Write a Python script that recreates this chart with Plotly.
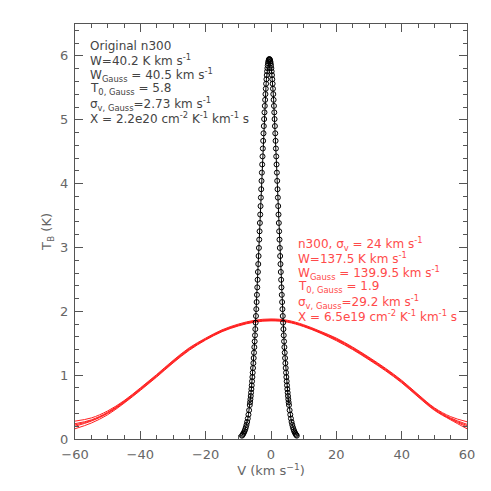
import plotly.graph_objects as go

# ---- black: original n300 spectrum (V in km/s, T_B in K) ----
v_orig = [-8.9, -8.7, -8.5, -8.3, -8.1, -7.9, -7.7, -7.5, -7.3, -7.1, -6.9, -6.7,
          -6.5, -6.4, -6.3, -6.2, -6.1, -6.0, -5.9, -5.8, -5.7, -5.6,
          -5.5, -5.4, -5.3, -5.2, -5.1, -5.0, -4.9, -4.8, -4.7, -4.6,
          -4.5, -4.4, -4.3, -4.2, -4.1, -4.0, -3.9, -3.8, -3.7, -3.6,
          -3.5, -3.4, -3.3, -3.2, -3.1, -3.0, -2.9, -2.8, -2.7, -2.6,
          -2.5, -2.4, -2.3, -2.2, -2.1, -2.0, -1.9, -1.8, -1.7, -1.6,
          -1.5, -1.4, -1.3, -1.2, -1.1, -1.0, -0.9, -0.8, -0.7, -0.6,
          -0.5,
          -0.4, -0.3, -0.2, -0.1, 0.0, 0.1, 0.2, 0.3, 0.4, 0.5,
          0.6, 0.7, 0.8, 0.9, 1.0, 1.1, 1.2, 1.3, 1.4, 1.5,
          1.6, 1.7, 1.8, 1.9, 2.0, 2.1, 2.2, 2.3, 2.4, 2.5,
          2.6, 2.7, 2.8, 2.9, 3.0, 3.1, 3.2, 3.3, 3.4, 3.5,
          3.6, 3.7, 3.8, 3.9, 4.0, 4.1, 4.2, 4.3, 4.4, 4.5,
          4.6, 4.7, 4.8, 4.9, 5.0, 5.1, 5.2, 5.3, 5.4, 5.5,
          5.7, 5.9, 6.1, 6.3, 6.5, 6.7, 6.9, 7.1, 7.3, 7.5, 7.7, 7.9]
t_orig = [0.052, 0.065, 0.081, 0.100, 0.123, 0.151, 0.184, 0.222, 0.267, 0.320, 0.381, 0.451,
          0.532, 0.576, 0.623, 0.673, 0.726, 0.782, 0.841, 0.904, 0.970, 1.039,
          1.112, 1.188, 1.268, 1.352, 1.439, 1.529, 1.624, 1.721, 1.822, 1.926,
          2.034, 2.145, 2.258, 2.375, 2.494, 2.616, 2.740, 2.866, 2.993, 3.123,
          3.253, 3.384, 3.516, 3.648, 3.781, 3.912, 4.043, 4.172, 4.300, 4.426,
          4.550, 4.670, 4.788, 4.901, 5.011, 5.116, 5.217, 5.312, 5.402, 5.486,
          5.564, 5.635, 5.700, 5.758, 5.808, 5.851, 5.886, 5.914, 5.934, 5.946,
          5.950,
          5.946, 5.934, 5.914, 5.886, 5.851, 5.808, 5.758, 5.700, 5.635, 5.564,
          5.486, 5.402, 5.312, 5.217, 5.116, 5.011, 4.901, 4.788, 4.670, 4.550,
          4.426, 4.300, 4.172, 4.043, 3.912, 3.781, 3.648, 3.516, 3.384, 3.253,
          3.123, 2.993, 2.866, 2.740, 2.616, 2.494, 2.375, 2.258, 2.145, 2.034,
          1.926, 1.822, 1.721, 1.624, 1.529, 1.439, 1.352, 1.268, 1.188, 1.112,
          1.039, 0.970, 0.904, 0.841, 0.782, 0.726, 0.673, 0.623, 0.576, 0.532,
          0.451, 0.381, 0.320, 0.267, 0.222, 0.184, 0.151, 0.123, 0.100, 0.081, 0.065, 0.052]

# ---- red: smoothed n300 spectra (sigma_v = 24 km/s) ----
v_smooth = [-60, -55, -50, -45, -40, -35, -30, -25, -20, -15, -10, -5, 0,
            5, 10, 15, 20, 25, 30, 35, 40, 45, 50, 55, 60]
t_smooth_1 = [0.16, 0.25, 0.38, 0.56, 0.76, 0.97, 1.19, 1.39, 1.55, 1.68, 1.77, 1.83, 1.85,
              1.83, 1.76, 1.66, 1.54, 1.40, 1.24, 1.07, 0.88, 0.66, 0.45, 0.30, 0.16]
t_smooth_2 = [0.20, 0.28, 0.40, 0.57, 0.77, 0.98, 1.20, 1.40, 1.56, 1.69, 1.78, 1.84, 1.86,
              1.84, 1.77, 1.67, 1.55, 1.41, 1.25, 1.08, 0.89, 0.67, 0.46, 0.31, 0.19]
t_smooth_3 = [0.22, 0.29, 0.41, 0.58, 0.78, 0.99, 1.21, 1.41, 1.56, 1.69, 1.78, 1.84, 1.86,
              1.84, 1.77, 1.67, 1.56, 1.42, 1.26, 1.09, 0.90, 0.68, 0.47, 0.32, 0.21]
t_smooth_4 = [0.24, 0.30, 0.42, 0.59, 0.79, 1.00, 1.22, 1.42, 1.57, 1.70, 1.79, 1.85, 1.87,
              1.85, 1.78, 1.68, 1.57, 1.43, 1.27, 1.10, 0.91, 0.69, 0.48, 0.33, 0.23]
t_smooth_5 = [0.28, 0.33, 0.44, 0.60, 0.80, 1.01, 1.23, 1.43, 1.58, 1.71, 1.80, 1.86, 1.88,
              1.86, 1.79, 1.69, 1.58, 1.44, 1.28, 1.11, 0.92, 0.70, 0.49, 0.35, 0.27]

x_ticks = [-60, -40, -20, 0, 20, 40, 60]
y_ticks = [0, 1, 2, 3, 4, 5, 6]

black_text = [
    "Original n300",
    "W=40.2 K km s<sup>-1</sup>",
    "W<sub>Gauss</sub> = 40.5 km s<sup>-1</sup>",
    "T<sub>0, Gauss</sub> = 5.8",
    "σ<sub>v, Gauss</sub>=2.73 km s<sup>-1</sup>",
    "X = 2.2e20 cm<sup>-2</sup> K<sup>-1</sup> km<sup>-1</sup> s",
]
red_text = [
    "n300, σ<sub>v</sub> = 24 km s<sup>-1</sup>",
    "W=137.5 K km s<sup>-1</sup>",
    "W<sub>Gauss</sub> = 139.9.5 km s<sup>-1</sup>",
    "T<sub>0, Gauss</sub> = 1.9",
    "σ<sub>v, Gauss</sub>=29.2 km s<sup>-1</sup>",
    "X = 6.5e19 cm<sup>-2</sup> K<sup>-1</sup> km<sup>-1</sup> s",
]

FONT = "DejaVu Sans"
GREY = "#555555"
TXT = "#666666"

fig = go.Figure()
for ts in [t_smooth_1, t_smooth_2, t_smooth_3, t_smooth_4, t_smooth_5]:
    fig.add_trace(go.Scatter(x=v_smooth, y=ts, mode="lines", line_shape="spline",
                             line=dict(color="#ff2020", width=1), showlegend=False))
fig.add_trace(go.Scatter(x=v_orig, y=t_orig, mode="lines",
                         line=dict(color="black", width=1), showlegend=False))
fig.add_trace(go.Scatter(x=v_orig, y=t_orig, mode="markers",
                         marker=dict(symbol="circle-open", size=5, color="black",
                                     line=dict(width=1, color="black")),
                         showlegend=False))
# invisible trace to activate mirrored tick axes (top / right)
fig.add_trace(go.Scatter(x=[x_ticks[0]], y=[y_ticks[0]], xaxis="x2", yaxis="y2",
                         mode="markers", marker=dict(opacity=0), showlegend=False,
                         hoverinfo="skip"))

annotations = []
for i, txt in enumerate(black_text):
    annotations.append(dict(x=0.033, y=0.947 - i * 0.0347, xref="paper", yref="paper",
                            text=txt, showarrow=False, xanchor="left", yanchor="middle",
                            font=dict(family=FONT, size=12, color="#444444")))
for i, txt in enumerate(red_text):
    annotations.append(dict(x=0.565, y=0.470 - i * 0.0347, xref="paper", yref="paper",
                            text=txt, showarrow=False, xanchor="left", yanchor="middle",
                            font=dict(family=FONT, size=12, color="#ff4a4a")))

axis_common = dict(showgrid=False, zeroline=False, showline=True, linecolor=GREY,
                   linewidth=1, ticks="inside", ticklen=8, tickcolor=GREY,
                   tickwidth=1, tickfont=dict(family=FONT, size=13, color=TXT))

fig.update_layout(
    width=491, height=491,
    # page body has an 8px margin; shift plot area to match the reference box
    margin=dict(l=67, r=32, t=16, b=60),
    plot_bgcolor="white", paper_bgcolor="white",
    xaxis=dict(range=[-60, 60], tickvals=x_ticks, ticklabelstandoff=3,
               minor=dict(dtick=5, ticks="inside", ticklen=4, tickcolor=GREY),
               title=dict(text="V (km s<sup>−1</sup>)", standoff=3,
                          font=dict(family=FONT, size=13, color=TXT)),
               **axis_common),
    yaxis=dict(range=[0, 6.5], tickvals=y_ticks, ticklabelstandoff=3,
               minor=dict(dtick=0.2, ticks="inside", ticklen=4, tickcolor=GREY),
               title=dict(text="T<sub>B</sub> (K)", standoff=5,
                          font=dict(family=FONT, size=13, color=TXT)),
               **axis_common),
    xaxis2=dict(range=[-60, 60], tickvals=x_ticks, overlaying="x", side="top",
                showticklabels=False,
                minor=dict(dtick=5, ticks="inside", ticklen=4, tickcolor=GREY),
                **axis_common),
    yaxis2=dict(range=[0, 6.5], tickvals=y_ticks, overlaying="y", side="right",
                showticklabels=False,
                minor=dict(dtick=0.2, ticks="inside", ticklen=4, tickcolor=GREY),
                **axis_common),
    annotations=annotations,
)

fig.write_html("out.html")
